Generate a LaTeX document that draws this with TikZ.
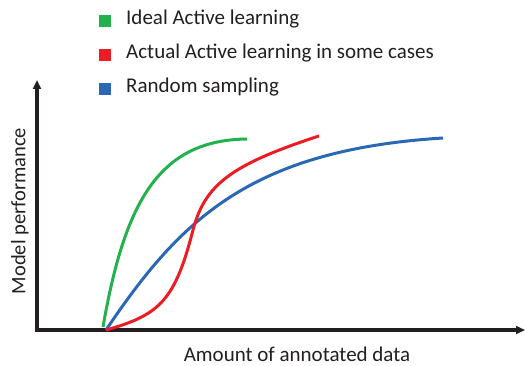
\documentclass[tikz,border=0pt]{standalone}
\usepackage{fontspec}
\setmainfont{Carlito}
\usetikzlibrary{arrows.meta}
\definecolor{axc}{HTML}{231F20}
\definecolor{gC}{RGB}{34,177,76}
\definecolor{rC}{RGB}{237,28,36}
\definecolor{bC}{RGB}{43,104,180}
\tikzset{
  axis/.style={line width=3.2pt, draw=axc, -{Triangle[length=9pt,width=8pt]}},
  curve/.style={line width=3pt},
  legsq/.style={minimum size=12pt, inner sep=0pt},
  legtxt/.style={anchor=base west, inner sep=0pt, text=axc, font=\fontsize{21}{24}\selectfont},
  lab/.style={inner sep=0pt, text=axc, font=\fontsize{21}{24}\selectfont}
}
\begin{document}
\begin{tikzpicture}[x=1pt,y=-1pt]
\useasboundingbox (0,0) rectangle (525,366);
% axes
\coordinate (O) at (37,330);
\coordinate (ytop) at (37,80);
\coordinate (xend) at (525,330);
\draw[axis] ([yshift=1.6pt]O) -- (ytop);
\draw[axis] ([xshift=-1.6pt]O) -- (xend);
% curve endpoints
\coordinate (gs) at (103,327);
\coordinate (ge) at (247,139);
\coordinate (s) at (106,330);
\coordinate (rm) at (193,230);
\coordinate (re) at (319,136);
\coordinate (be) at (443,138);
\draw[curve, draw=bC] (s) .. controls (180,220) and (250,150) .. (be);
\draw[curve, draw=rC] (s) .. controls (160,315) and (175,300) .. (rm)
   .. controls (205,185) and (230,165) .. (re);
\draw[curve, draw=gC] (gs) .. controls (125,200) and (160,140) .. (ge);
% legend
\node[legsq, fill=gC] (lg) at (105,21) {};
\node[legsq, fill=rC] (lr) at (105,55) {};
\node[legsq, fill=bC] (lb) at (105,89) {};
\node[legtxt] (tg) at (126,25) {Ideal Active learning};
\node[legtxt] (tr) at (126,59) {Actual Active learning in some cases};
\node[legtxt] (tb) at (126,93) {Random sampling};
% axis labels
\node[lab] (xl) at (297,354) {Amount of annotated data};
\node[lab, rotate=90, font=\fontsize{20.5}{24}\selectfont] (yl) at (20,211) {Model performance};
\end{tikzpicture}
\end{document}
